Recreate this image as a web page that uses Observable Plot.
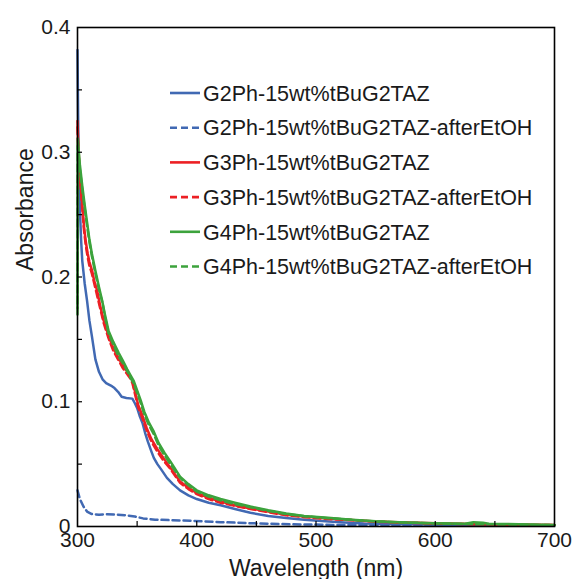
<!DOCTYPE html>
<html>
<head>
<meta charset="utf-8">
<script src="https://cdn.jsdelivr.net/npm/d3@7"></script>
<script src="https://cdn.jsdelivr.net/npm/@observablehq/plot@0.6"></script>
<style>
  html, body { margin: 0; padding: 0; background: #fff; }
  #chart { position: relative; width: 574px; height: 579px; }
</style>
</head>
<body>
<div id="chart"></div>
<script>
// ---------- data ----------
const seriesNames = [
  "G2Ph-15wt%tBuG2TAZ",
  "G2Ph-15wt%tBuG2TAZ-afterEtOH",
  "G3Ph-15wt%tBuG2TAZ",
  "G3Ph-15wt%tBuG2TAZ-afterEtOH",
  "G4Ph-15wt%tBuG2TAZ",
  "G4Ph-15wt%tBuG2TAZ-afterEtOH"
];
const seriesColors = ["#4169b3", "#4169b3", "#ec2024", "#ec2024", "#3ca33c", "#3ca33c"];
const seriesDashed = [false, true, false, true, false, true];

const wlG2 = [300, 300.5, 301, 302, 303, 304, 306, 308, 310, 312, 315, 318, 321, 324, 328, 331, 334, 337, 341, 346, 348, 350, 352, 354.5, 357, 359, 362, 364, 367, 370, 375, 380, 386, 393, 400, 410, 420, 432, 445, 460, 475, 490, 505, 520, 540, 560, 580, 600, 630, 660, 700];
const absG2 = [0.382, 0.33, 0.29, 0.255, 0.23, 0.213, 0.195, 0.181, 0.165, 0.153, 0.134, 0.124, 0.118, 0.115, 0.113, 0.111, 0.108, 0.104, 0.103, 0.1025, 0.099, 0.095, 0.089, 0.083, 0.074, 0.068, 0.06, 0.055, 0.05, 0.046, 0.039, 0.034, 0.029, 0.025, 0.022, 0.019, 0.017, 0.014, 0.011, 0.0085, 0.0068, 0.0055, 0.0045, 0.0035, 0.0025, 0.002, 0.0018, 0.0015, 0.0012, 0.001, 0.0008];

const wlG2e = [300, 302, 305, 308, 312, 318, 325, 333, 340, 348, 355, 365, 380, 397, 420, 450, 480, 520, 560, 600, 650, 700];
const absG2e = [0.029, 0.022, 0.016, 0.012, 0.010, 0.0095, 0.0098, 0.0095, 0.009, 0.008, 0.0065, 0.0055, 0.005, 0.0045, 0.0035, 0.0025, 0.0018, 0.0012, 0.001, 0.0008, 0.0006, 0.0005];

const wlG3 = [300, 300.5, 301.5, 302.5, 304, 305.5, 307, 308.5, 310, 312.3, 314, 316.5, 319, 322, 326, 330, 334, 338, 341, 344, 346, 348, 351, 354, 358, 362, 367, 372, 378, 386, 393, 400, 410, 420, 432, 445, 460, 475, 490, 510, 530, 550, 575, 600, 630, 660, 700];
const absG3 = [0.325, 0.31, 0.29, 0.277, 0.258, 0.24, 0.228, 0.219, 0.212, 0.205, 0.197, 0.189, 0.177, 0.165, 0.153, 0.143, 0.136, 0.129, 0.125, 0.121, 0.117, 0.109, 0.097, 0.09, 0.079, 0.07, 0.062, 0.055, 0.047, 0.036, 0.031, 0.027, 0.023, 0.02, 0.017, 0.0145, 0.012, 0.0095, 0.008, 0.0065, 0.0052, 0.004, 0.0032, 0.0026, 0.002, 0.0016, 0.0012];

const wlG3e = [300, 300.5, 301.5, 302.5, 304, 305.5, 307, 308.5, 310, 312, 314, 316, 319, 322, 326, 330, 334, 338, 341, 344, 346, 348, 351, 354, 358, 362, 367, 372, 378, 386, 393, 400, 410, 420, 432, 445, 460, 475, 490, 510, 530, 550, 575, 600, 630, 660, 700];
const absG3e = [0.32, 0.305, 0.287, 0.274, 0.255, 0.237, 0.225, 0.216, 0.209, 0.203, 0.195, 0.187, 0.175, 0.163, 0.151, 0.141, 0.134, 0.127, 0.123, 0.119, 0.115, 0.107, 0.095, 0.088, 0.077, 0.068, 0.06, 0.053, 0.046, 0.035, 0.030, 0.026, 0.022, 0.019, 0.0165, 0.014, 0.0115, 0.009, 0.0075, 0.006, 0.005, 0.0038, 0.003, 0.0024, 0.0019, 0.0015, 0.0011];

const wlG4 = [300, 300.2, 302, 304, 306, 308, 310, 312, 315, 318, 320.7, 323, 326, 330, 334.6, 338, 341.7, 344, 347, 350, 353, 356, 360, 364, 368, 373, 378, 386, 393, 400, 410, 420, 432, 445, 460, 475, 490, 510, 530, 550, 575, 600, 625, 632, 640, 645, 670, 700];
const absG4 = [0.175, 0.311, 0.29, 0.273, 0.258, 0.244, 0.23, 0.219, 0.205, 0.192, 0.181, 0.17, 0.157, 0.148, 0.139, 0.133, 0.126, 0.122, 0.117, 0.109, 0.101, 0.092, 0.083, 0.076, 0.067, 0.059, 0.052, 0.040, 0.034, 0.029, 0.025, 0.022, 0.019, 0.016, 0.013, 0.0105, 0.0085, 0.007, 0.0055, 0.0042, 0.0033, 0.0026, 0.0022, 0.0035, 0.003, 0.0022, 0.0018, 0.0012];

const wlG4e = [300, 300.2, 302, 304, 306, 308, 310, 312, 315, 318, 321, 323, 326, 330, 334, 338, 342, 344, 347, 350, 353, 356, 360, 364, 368, 373, 378, 386, 393, 400, 410, 420, 432, 445, 460, 475, 490, 510, 530, 550, 575, 600, 625, 650, 675, 700];
const absG4e = [0.17, 0.305, 0.286, 0.27, 0.255, 0.241, 0.228, 0.217, 0.203, 0.19, 0.179, 0.168, 0.155, 0.146, 0.137, 0.131, 0.124, 0.12, 0.115, 0.107, 0.099, 0.09, 0.081, 0.074, 0.065, 0.057, 0.05, 0.039, 0.033, 0.028, 0.024, 0.021, 0.018, 0.0155, 0.0125, 0.01, 0.0082, 0.0067, 0.0053, 0.004, 0.0032, 0.0025, 0.002, 0.0017, 0.0014, 0.0011];

const xTickLabels = [300, 400, 500, 600, 700];
const xTickMarks = [350, 400, 450, 500, 550, 600, 650];
const yTickLabels = [0, 0.1, 0.2, 0.3, 0.4];
const yTickMarks = [0.05, 0.1, 0.15, 0.2, 0.25, 0.3, 0.35];
const xLabel = "Wavelength (nm)";
const yLabel = "Absorbance";

// ---------- build table ----------
const wls = [wlG2, wlG2e, wlG3, wlG3e, wlG4, wlG4e];
const abss = [absG2, absG2e, absG3, absG3e, absG4, absG4e];
const rows = [];
seriesNames.forEach((name, i) => {
  wls[i].forEach((w, j) => rows.push({series: name, idx: i, wl: w, a: abss[i][j]}));
});

const font = "'Liberation Sans', Arial, Helvetica, sans-serif";
const W = 574, H = 579, mL = 77, mR = 20, mT = 27, mB = 53;
const innerW = W - mL - mR, innerH = H - mT - mB;

const lineMarks = seriesNames.map((name, i) =>
  Plot.line(rows.filter(r => r.idx === i), {
    x: "wl", y: "a",
    stroke: seriesColors[i],
    strokeWidth: 2.5,
    strokeDasharray: seriesDashed[i] ? "7,4" : null,
    curve: "linear"
  })
);

const svg = Plot.plot({
  width: W, height: H,
  marginLeft: mL, marginRight: mR, marginTop: mT, marginBottom: mB,
  x: {domain: [300, 700]},
  y: {domain: [0, 0.4]},
  style: {fontFamily: font, fontSize: "21px", color: "#1a1a1a", background: "white", overflow: "visible"},
  marks: [
    ...lineMarks,
    Plot.tickX(xTickMarks, {x: d => d, insetTop: innerH - 5, stroke: "black", strokeWidth: 1.2}),
    Plot.tickY(yTickMarks, {y: d => d, insetRight: innerW - 5, stroke: "black", strokeWidth: 1.2}),
    Plot.frame({stroke: "black", strokeWidth: 1.6}),
    Plot.axisX(xTickLabels, {tickSize: 0, tickPadding: 6, tickFormat: d => String(d), label: null, fill: "#1a1a1a"}),
    Plot.axisY(yTickLabels, {tickSize: 0, tickPadding: 7, tickFormat: d => d === 0 ? "0" : d.toFixed(1), label: null, fill: "#1a1a1a"}),
    Plot.text([xLabel], {text: d => d, frameAnchor: "bottom", lineAnchor: "bottom", dy: 49, fontSize: 23, fill: "#1a1a1a"}),
    Plot.text([yLabel], {text: d => d, frameAnchor: "left", rotate: -90, dx: -52, dy: -6, fontSize: 23, fill: "#1a1a1a"})
  ]
});

// ---------- legend inside the plot (top) ----------
const g = d3.select(svg).append("g")
  .attr("font-family", font).attr("font-size", 21.5)
  .attr("text-anchor", "start");
const legX = 170, legY0 = 93, legStep = 34.7;
seriesNames.forEach((name, i) => {
  const y = legY0 + i * legStep;
  g.append("path")
    .attr("d", `M${legX},${y}H${legX + 30}`)
    .attr("fill", "none")
    .attr("stroke", seriesColors[i])
    .attr("stroke-width", 2.6)
    .attr("stroke-dasharray", seriesDashed[i] ? "7,4" : "none");
  g.append("text")
    .attr("x", legX + 33).attr("y", y).attr("dy", "0.36em")
    .attr("text-anchor", "start")
    .attr("fill", "#1a1a1a")
    .text(name);
});

document.getElementById("chart").appendChild(svg);
</script>
</body>
</html>
